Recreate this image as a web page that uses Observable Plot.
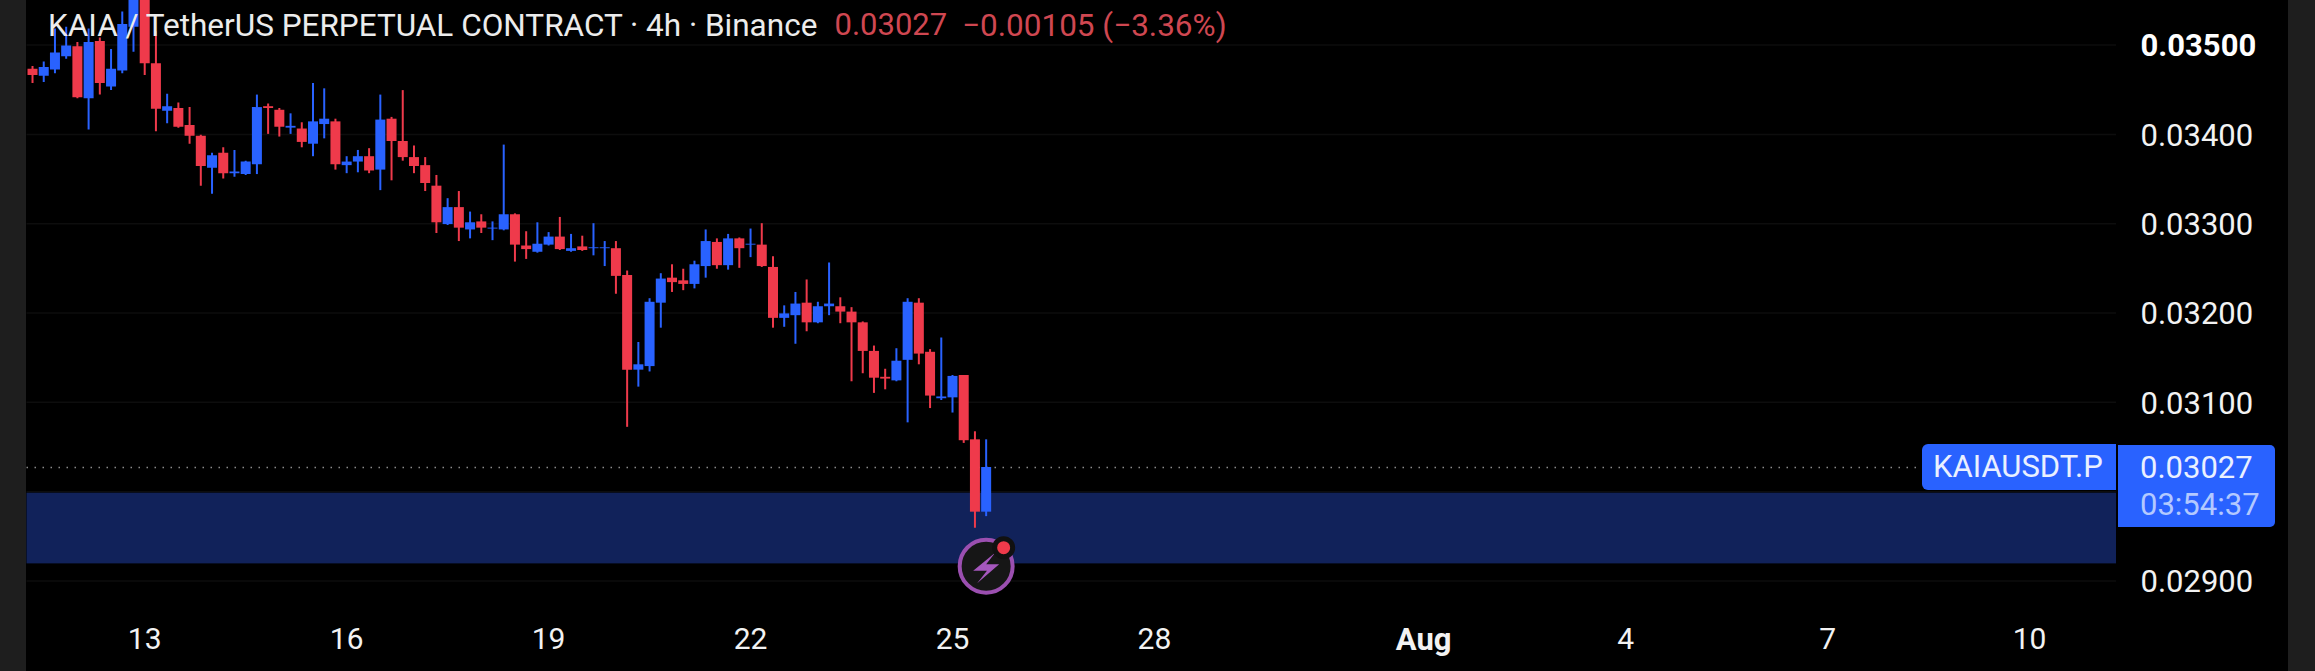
<!DOCTYPE html>
<html><head><meta charset="utf-8">
<script src="https://cdn.jsdelivr.net/npm/d3@7"></script>
<script src="https://cdn.jsdelivr.net/npm/@observablehq/plot@0.6"></script>
<style>
html,body{margin:0;padding:0;background:#000;overflow:hidden}
#wrap{position:relative;width:2315px;height:671px;font-family:Roboto,sans-serif}
.badge{position:absolute;background:#2962ff;color:#eaf0ff;font-size:31px;box-sizing:border-box}
</style></head><body>
<div id="wrap"></div>
<script>
const firstCandle = "2025-07-11T08:00:00Z";
const open = [0.03473,0.03465,0.03472,0.03487,0.03498,0.03440,0.03504,0.03453,0.03471,0.03520,0.03565,0.03479,0.03426,0.03429,0.03410,0.03398,0.03362,0.03379,0.03356,0.03355,0.03366,0.03431,0.03427,0.03407,0.03406,0.03389,0.03411,0.03414,0.03365,0.03369,0.03375,0.03360,0.03417,0.03392,0.03374,0.03365,0.03342,0.03299,0.03318,0.03293,0.03302,0.03294,0.03293,0.03310,0.03275,0.03268,0.03276,0.03285,0.03269,0.03274,0.03272,0.03272,0.03272,0.03242,0.03136,0.03140,0.03211,0.03239,0.03236,0.03232,0.03252,0.03279,0.03253,0.03283,0.03276,0.03276,0.03251,0.03194,0.03197,0.03211,0.03189,0.03207,0.03207,0.03201,0.03189,0.03157,0.03128,0.03124,0.03147,0.03211,0.03156,0.03104,0.03105,0.03130,0.03058,0.02977];
const high = [0.03476,0.03481,0.03518,0.03520,0.03503,0.03518,0.03508,0.03495,0.03537,0.03575,0.03580,0.03515,0.03445,0.03435,0.03430,0.03399,0.03379,0.03385,0.03382,0.03370,0.03444,0.03434,0.03429,0.03423,0.03413,0.03457,0.03451,0.03417,0.03375,0.03382,0.03384,0.03444,0.03419,0.03449,0.03387,0.03374,0.03354,0.03328,0.03336,0.03313,0.03310,0.03302,0.03388,0.03311,0.03291,0.03301,0.03290,0.03307,0.03288,0.03286,0.03300,0.03280,0.03280,0.03247,0.03167,0.03216,0.03244,0.03254,0.03249,0.03258,0.03293,0.03283,0.03288,0.03284,0.03294,0.03300,0.03263,0.03208,0.03223,0.03237,0.03212,0.03256,0.03217,0.03206,0.03190,0.03163,0.03137,0.03160,0.03216,0.03216,0.03159,0.03172,0.03130,0.03130,0.03067,0.03058];
const low = [0.03457,0.03458,0.03468,0.03484,0.03440,0.03405,0.03444,0.03449,0.03468,0.03492,0.03466,0.03403,0.03412,0.03407,0.03389,0.03342,0.03333,0.03350,0.03352,0.03354,0.03355,0.03400,0.03397,0.03400,0.03385,0.03375,0.03395,0.03360,0.03356,0.03357,0.03356,0.03337,0.03348,0.03370,0.03356,0.03336,0.03289,0.03298,0.03280,0.03283,0.03289,0.03281,0.03292,0.03257,0.03260,0.03267,0.03275,0.03270,0.03268,0.03269,0.03264,0.03252,0.03221,0.03072,0.03117,0.03134,0.03183,0.03223,0.03225,0.03227,0.03239,0.03249,0.03248,0.03250,0.03262,0.03251,0.03183,0.03184,0.03165,0.03179,0.03188,0.03197,0.03188,0.03123,0.03132,0.03110,0.03114,0.03123,0.03077,0.03142,0.03093,0.03102,0.03088,0.03054,0.02959,0.02972];
const close = [0.03466,0.03475,0.03491,0.03499,0.03441,0.03503,0.03457,0.03473,0.03523,0.03565,0.03479,0.03428,0.03431,0.03408,0.03398,0.03364,0.03376,0.03356,0.03358,0.03369,0.03430,0.03429,0.03408,0.03409,0.03391,0.03414,0.03417,0.03366,0.03369,0.03375,0.03359,0.03416,0.03392,0.03374,0.03364,0.03345,0.03301,0.03318,0.03295,0.03301,0.03295,0.03295,0.03310,0.03276,0.03271,0.03277,0.03285,0.03271,0.03272,0.03270,0.03273,0.03273,0.03241,0.03136,0.03142,0.03212,0.03238,0.03234,0.03232,0.03254,0.03280,0.03253,0.03283,0.03272,0.03277,0.03252,0.03194,0.03199,0.03210,0.03189,0.03207,0.03210,0.03201,0.03189,0.03157,0.03127,0.03126,0.03146,0.03212,0.03154,0.03107,0.03106,0.03129,0.03057,0.02977,0.03027];
const priceTicks = [0.034,0.033,0.032,0.031,0.029];
const boldPriceTick = [0.035];
const gridPrices = [0.035,0.034,0.033,0.032,0.031,0.030,0.029];
const dateTicks = ["2025-07-13","2025-07-16","2025-07-19","2025-07-22","2025-07-25","2025-07-28","2025-08-04","2025-08-07","2025-08-10"];
const dateLabels = ["13","16","19","22","25","28","4","7","10"];
const boldDateTick = ["2025-08-01"];
const boldDateLabel = ["Aug"];
const zone = [{low:0.029191,high:0.029982}];
const lastPrice = 0.03027;
const lineEnd = "2025-08-08T09:00:00Z";
const marker = [{date:"2025-07-25T12:00:00Z",price:0.029165}];
const titleText = "KAIA / TetherUS PERPETUAL CONTRACT · 4h · Binance";
const quote = "0.03027";
const change = "−0.00105 (−3.36%)";
const symbolName = "KAIAUSDT.P";
const countdown = "03:54:37";

const UP = "#2962ff", DOWN = "#ef3a4b", TXT = "#f2f2f2", QUOTE = "#cf4751";
const t0 = new Date(firstCandle);
const candles = open.map((o,i)=>({date:d3.utcHour.offset(t0,4*i),open:o,high:high[i],low:low[i],close:close[i],dir:close[i]>=o?"up":"down"}));
const bolt = {draw(c){c.moveTo(9,-13.5);c.lineTo(-13,4.5);c.lineTo(0.8,4.5);c.lineTo(-9,17);c.lineTo(13,-2);c.lineTo(0,-2);c.closePath();}};
const d = s=>new Date(s);

const plot = Plot.plot({
  width:2315,height:671,marginTop:0,marginBottom:61,marginLeft:26.5,marginRight:199,
  style:{background:"linear-gradient(to right,#1e1e1e 26.5px,#000 26.5px,#000 2288px,#1e1e1e 2288px)",fontFamily:"Roboto, sans-serif",color:TXT},
  x:{type:"utc",domain:[d("2025-07-11T06:02:00Z"),d("2025-08-11T07:00:00Z")],axis:null},
  y:{domain:[0.028669,0.035499],axis:null},
  color:{domain:["up","down"],range:[UP,DOWN]},
  marks:[
    Plot.ruleY(gridPrices,{stroke:"#0d0d0d",strokeWidth:1.5}),
    Plot.rect(zone,{y1:"low",y2:"high",fill:"#11225a"}),
    Plot.ruleY([lastPrice],{x1:()=>d("2025-07-11T06:02:00Z"),x2:()=>d(lineEnd),stroke:"#8a8a8a",strokeWidth:1.5,strokeDasharray:"1.5,6.5"}),
    Plot.ruleX(candles,{x:"date",y1:"low",y2:"high",stroke:"dir",strokeWidth:2,clip:true}),
    Plot.ruleX(candles,{x:"date",y1:"open",y2:"close",stroke:"dir",strokeWidth:10,clip:true}),
    Plot.dot(marker,{x:d=>new Date(d.date),y:"price",r:26.5,fill:"#161616",stroke:"#9b4fb0",strokeWidth:4}),
    Plot.dot(marker,{x:d=>new Date(d.date),y:"price",symbol:bolt,fill:"#a557bd",stroke:"none"}),
    Plot.dot(marker,{x:d=>new Date(d.date),y:"price",dx:17.5,dy:-18.5,r:9,fill:DOWN,stroke:"#111",strokeWidth:5}),
    Plot.axisY({anchor:"right",ticks:priceTicks,tickSize:0,tickPadding:24,dy:1.5,tickFormat:d3.format(".5f"),fontSize:31,fill:TXT,label:null}),
    Plot.axisY({anchor:"right",ticks:boldPriceTick,tickSize:0,tickPadding:24,dy:1.5,tickFormat:d3.format(".5f"),fontSize:31,fontWeight:"bold",fill:"#fff",label:null}),
    Plot.axisX({anchor:"bottom",ticks:dateTicks.map(d),tickSize:0,tickPadding:17,tickFormat:(v)=>dateLabels[dateTicks.findIndex(s=>+d(s)===+v)],fontSize:30,fill:TXT,label:null}),
    Plot.axisX({anchor:"bottom",ticks:boldDateTick.map(d),tickSize:0,tickPadding:17,tickFormat:()=>boldDateLabel[0],fontSize:31,fontWeight:"bold",fill:TXT,label:null}),
    Plot.text([titleText],{text:d=>d,frameAnchor:"top-left",textAnchor:"start",lineAnchor:"middle",dx:21,dy:25,fontSize:31.5,fill:"#ececec"}),
    Plot.text([quote],{text:d=>d,frameAnchor:"top-left",textAnchor:"start",lineAnchor:"middle",dx:807.5,dy:25,fontSize:31,fill:QUOTE}),
    Plot.text([change],{text:d=>d,frameAnchor:"top-left",textAnchor:"start",lineAnchor:"middle",dx:935,dy:25,fontSize:31.5,fill:QUOTE})
  ]
});
const wrap = document.getElementById("wrap");
wrap.appendChild(plot);
const yp = plot.scale("y").apply(lastPrice);
const sym = document.createElement("div");
sym.className="badge";
sym.textContent=symbolName;
Object.assign(sym.style,{left:"1922px",top:(yp-23)+"px",width:"194px",height:"46px",lineHeight:"46px",paddingLeft:"11px",borderRadius:"6px 0 0 6px"});
wrap.appendChild(sym);
const px = document.createElement("div");
px.className="badge";
Object.assign(px.style,{left:"2118px",top:(yp-22.5)+"px",width:"157px",height:"82.5px",paddingLeft:"22px",borderRadius:"0 5px 5px 0",lineHeight:"37px",paddingTop:"4px"});
px.innerHTML='<div></div><div style="color:#b3c9ff"></div>';
px.children[0].textContent=quote;
px.children[1].textContent=countdown;
wrap.appendChild(px);
</script></body></html>
